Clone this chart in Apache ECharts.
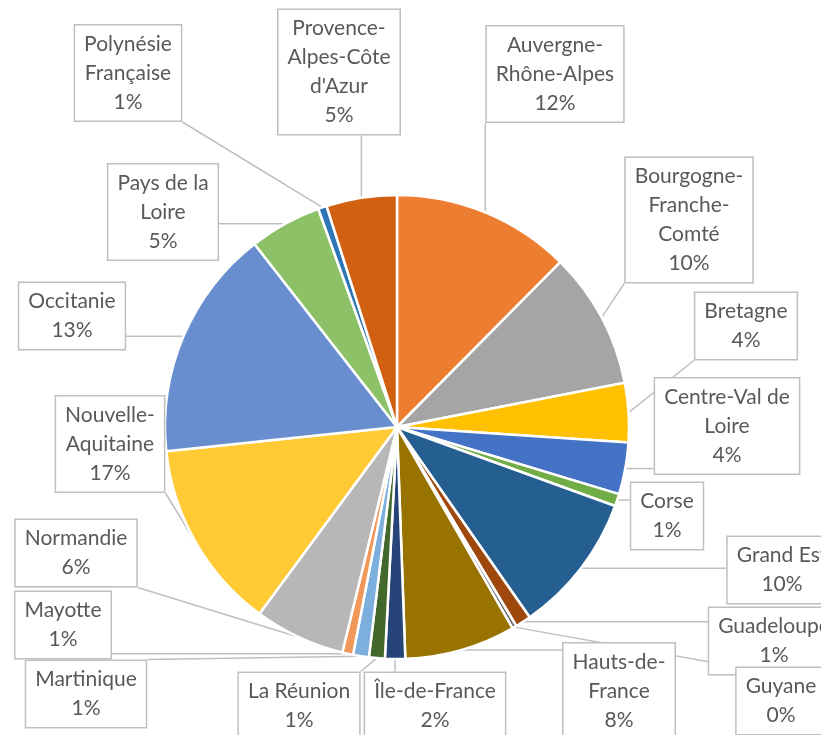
<!DOCTYPE html>
<html>
<head>
<meta charset="utf-8">
<script src="https://cdn.jsdelivr.net/npm/echarts@6/dist/echarts.min.js"></script>
<style>
html, body { margin: 0; padding: 0; background: #fff; }
#chart { width: 821px; height: 735px; }
</style>
</head>
<body>
<div id="chart"></div>
<script>
// regions, clockwise from 12 o'clock
var regions = ['Auvergne-Rhône-Alpes', 'Bourgogne-Franche-Comté', 'Bretagne', 'Centre-Val de Loire',
  'Corse', 'Grand Est', 'Guadeloupe', 'Guyane', 'Hauts-de-France', 'Île-de-France', 'La Réunion',
  'Martinique', 'Mayotte', 'Normandie', 'Nouvelle-Aquitaine', 'Occitanie', 'Pays de la Loire',
  'Polynésie Française', "Provence-Alpes-Côte d'Azur"];

// slice sizes as drawn (share of the whole, %)
var shares = [12.4, 9.5, 4.1, 3.6, 0.86, 9.75, 1.1, 0.3, 7.7, 1.4, 1.1, 1.1, 0.75, 6.3, 13.2, 16.1, 5.0, 0.6, 4.9];

// percentages as printed in the callouts
var shownPct = ['12%', '10%', '4%', '4%', '1%', '10%', '1%', '0%', '8%', '2%', '1%',
  '1%', '1%', '6%', '17%', '13%', '5%', '1%', '5%'];

// how the names wrap inside the boxes
var wrapped = ['Auvergne-\nRhône-Alpes', 'Bourgogne-\nFranche-\nComté', 'Bretagne', 'Centre-Val de\nLoire',
  'Corse', 'Grand Est', 'Guadeloupe', 'Guyane', 'Hauts-de-\nFrance', 'Île-de-France', 'La Réunion',
  'Martinique', 'Mayotte', 'Normandie', 'Nouvelle-\nAquitaine', 'Occitanie', 'Pays de la\nLoire',
  'Polynésie\nFrançaise', "Provence-\nAlpes-Côte\nd'Azur"];

var colors = ['#ED7D31', '#A5A5A5', '#FFC000', '#4472C4', '#70AD47', '#255E91', '#9E480E', '#636363',
  '#997300', '#264478', '#43682B', '#7CAFDD', '#F1975A', '#B7B7B7', '#FFCA33', '#698ED0', '#8CC168',
  '#2E75B6', '#D26012'];

// where each callout box sits (centre, px)
var boxAt = [[555, 74], [689, 220], [746, 326], [727, 426], [667, 516], [782, 570], [774, 641],
  [781, 701], [619, 691], [435, 706], [299, 706], [86, 694], [63, 625], [76, 553], [110, 444],
  [72, 316], [163, 212], [128, 73], [339, 72]];

var chart = echarts.init(document.getElementById('chart'));

var option = {
  animation: false,
  color: colors,
  series: [{
    type: 'pie',
    center: [397, 427],
    radius: 232,
    startAngle: 90,
    clockwise: true,
    avoidLabelOverlap: false,
    itemStyle: { borderColor: '#fff', borderWidth: 2.5 },
    label: {
      show: true,
      formatter: function (p) {
        return wrapped[p.dataIndex] + '\n' + shownPct[p.dataIndex];
      },
      fontFamily: 'Lato',
      fontSize: 21,
      lineHeight: 29,
      color: '#595959',
      align: 'center',
      backgroundColor: '#fff',
      borderColor: '#BFBFBF',
      borderWidth: 1.5,
      padding: [4, 9]
    },
    labelLine: {
      show: true,
      length: 10,
      length2: 10,
      lineStyle: { color: '#BFBFBF', width: 1.5 }
    },
    labelLayout: function (params) {
      var c = boxAt[params.dataIndex];
      var r = params.labelRect;
      var x0 = c[0] - r.width / 2, x1 = c[0] + r.width / 2;
      var y0 = c[1] - r.height / 2, y1 = c[1] + r.height / 2;
      var res = { x: c[0], y: c[1], align: 'center', verticalAlign: 'middle' };
      if (params.labelLinePoints) {
        var p0 = params.labelLinePoints[0];
        var ex = Math.min(Math.max(p0[0], x0), x1);
        var ey = Math.min(Math.max(p0[1], y0), y1);
        res.labelLinePoints = [[p0[0], p0[1]], [ex, ey], [ex, ey]];
      }
      return res;
    },
    data: regions.map(function (name, i) {
      return { name: name, value: shares[i] };
    })
  }]
};

chart.setOption(option);
window.onresize = chart.resize;
</script>
</body>
</html>
